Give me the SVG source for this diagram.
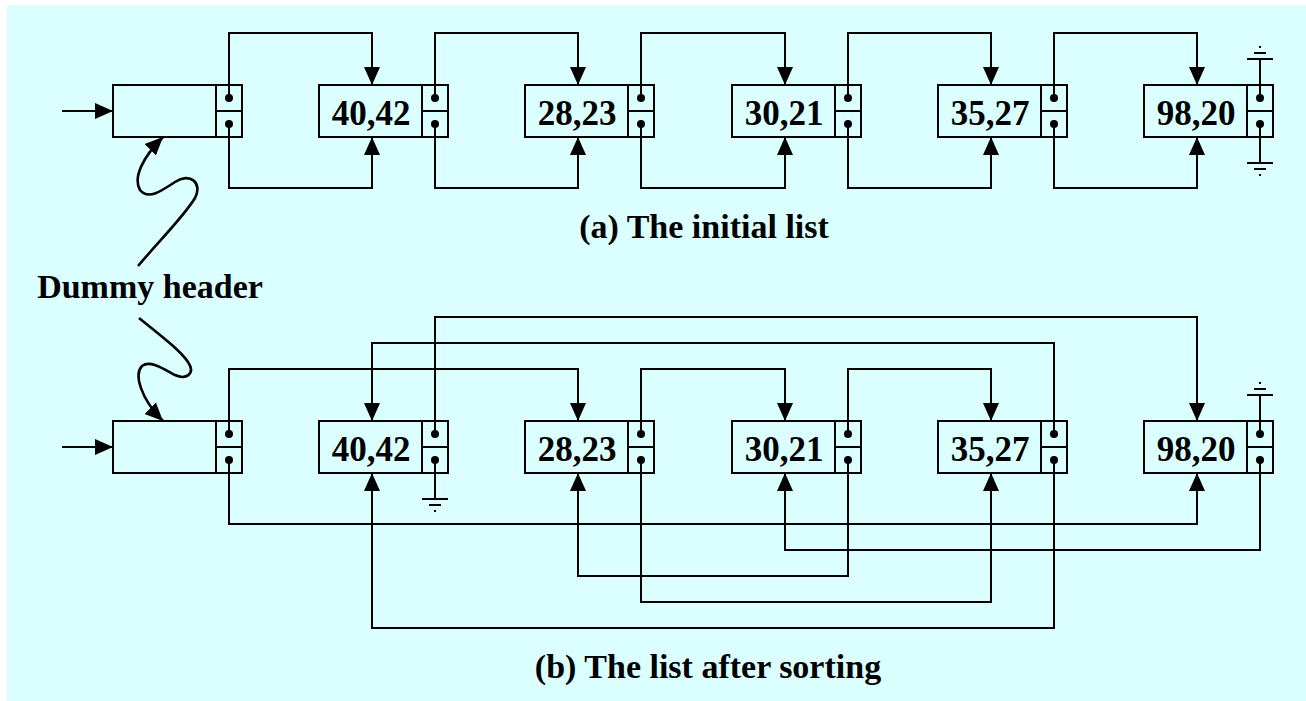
<svg xmlns="http://www.w3.org/2000/svg" width="1306" height="701" viewBox="0 0 1306 701">
<defs>
<style>
.bx{fill:none;stroke:#000;stroke-width:2}
.ln{fill:none;stroke:#000;stroke-width:2}
.sq{fill:none;stroke:#000;stroke-width:2.6}
.dt{fill:#000}
.lb{font-family:"Liberation Serif","Times New Roman",serif;font-weight:bold;font-size:35px;text-anchor:middle;fill:#000}
.cap{font-family:"Liberation Serif","Times New Roman",serif;font-weight:bold;font-size:34px;text-anchor:middle;fill:#000}
</style>
<marker id="ah" viewBox="0 0 18 18" markerWidth="18" markerHeight="18" refX="18" refY="9" orient="auto" markerUnits="userSpaceOnUse">
<path d="M0,1 L18,9 L0,17 Z" fill="#000"/>
</marker>
<g id="gnd-up">
<path d="M0,0 V-39 M-13,-39 H13 M-6,-45 H6" class="ln"/>
<rect x="-1" y="-52" width="2" height="2" fill="#000"/>
</g>
<g id="gnd-down">
<path d="M0,0 V39 M-13,39 H13 M-6,45 H6" class="ln"/>
<rect x="-1" y="50" width="2" height="2" fill="#000"/>
</g>
</defs>
<rect x="0" y="0" width="1306" height="701" fill="#ffffff"/>
<rect x="7" y="5" width="1299" height="696" fill="#dbffff"/>

<!-- Row (a) nodes -->
<g id="a-header">
<rect x="113" y="85" width="103" height="52" class="bx"/>
<rect x="216" y="85" width="26" height="52" class="bx"/>
<line x1="216" y1="111" x2="242" y2="111" class="ln"/>
<circle cx="229" cy="98" r="4" class="dt"/><circle cx="229" cy="124" r="4" class="dt"/>
</g>
<g id="a-n1">
<rect x="319" y="85" width="103" height="52" class="bx"/>
<rect x="422" y="85" width="26" height="52" class="bx"/>
<line x1="422" y1="111" x2="448" y2="111" class="ln"/>
<circle cx="435" cy="98" r="4" class="dt"/><circle cx="435" cy="124" r="4" class="dt"/>
<text x="371" y="125" class="lb">40,42</text>
</g>
<g id="a-n2">
<rect x="525" y="85" width="103" height="52" class="bx"/>
<rect x="628" y="85" width="26" height="52" class="bx"/>
<line x1="628" y1="111" x2="654" y2="111" class="ln"/>
<circle cx="641" cy="98" r="4" class="dt"/><circle cx="641" cy="124" r="4" class="dt"/>
<text x="577" y="125" class="lb">28,23</text>
</g>
<g id="a-n3">
<rect x="732" y="85" width="103" height="52" class="bx"/>
<rect x="835" y="85" width="26" height="52" class="bx"/>
<line x1="835" y1="111" x2="861" y2="111" class="ln"/>
<circle cx="848" cy="98" r="4" class="dt"/><circle cx="848" cy="124" r="4" class="dt"/>
<text x="784" y="125" class="lb">30,21</text>
</g>
<g id="a-n4">
<rect x="938" y="85" width="103" height="52" class="bx"/>
<rect x="1041" y="85" width="26" height="52" class="bx"/>
<line x1="1041" y1="111" x2="1067" y2="111" class="ln"/>
<circle cx="1054" cy="98" r="4" class="dt"/><circle cx="1054" cy="124" r="4" class="dt"/>
<text x="990" y="125" class="lb">35,27</text>
</g>
<g id="a-n5">
<rect x="1144" y="85" width="103" height="52" class="bx"/>
<rect x="1247" y="85" width="26" height="52" class="bx"/>
<line x1="1247" y1="111" x2="1273" y2="111" class="ln"/>
<circle cx="1260" cy="98" r="4" class="dt"/><circle cx="1260" cy="124" r="4" class="dt"/>
<text x="1196" y="125" class="lb">98,20</text>
<use href="#gnd-up" x="1260" y="98"/>
<use href="#gnd-down" x="1260" y="124"/>
</g>

<!-- Row (b) nodes -->
<g id="b-header">
<rect x="113" y="421" width="103" height="52" class="bx"/>
<rect x="216" y="421" width="26" height="52" class="bx"/>
<line x1="216" y1="447" x2="242" y2="447" class="ln"/>
<circle cx="229" cy="434" r="4" class="dt"/><circle cx="229" cy="460" r="4" class="dt"/>
</g>
<g id="b-n1">
<rect x="319" y="421" width="103" height="52" class="bx"/>
<rect x="422" y="421" width="26" height="52" class="bx"/>
<line x1="422" y1="447" x2="448" y2="447" class="ln"/>
<circle cx="435" cy="434" r="4" class="dt"/><circle cx="435" cy="460" r="4" class="dt"/>
<text x="371" y="461" class="lb">40,42</text>
<use href="#gnd-down" x="435" y="460"/>
</g>
<g id="b-n2">
<rect x="525" y="421" width="103" height="52" class="bx"/>
<rect x="628" y="421" width="26" height="52" class="bx"/>
<line x1="628" y1="447" x2="654" y2="447" class="ln"/>
<circle cx="641" cy="434" r="4" class="dt"/><circle cx="641" cy="460" r="4" class="dt"/>
<text x="577" y="461" class="lb">28,23</text>
</g>
<g id="b-n3">
<rect x="732" y="421" width="103" height="52" class="bx"/>
<rect x="835" y="421" width="26" height="52" class="bx"/>
<line x1="835" y1="447" x2="861" y2="447" class="ln"/>
<circle cx="848" cy="434" r="4" class="dt"/><circle cx="848" cy="460" r="4" class="dt"/>
<text x="784" y="461" class="lb">30,21</text>
</g>
<g id="b-n4">
<rect x="938" y="421" width="103" height="52" class="bx"/>
<rect x="1041" y="421" width="26" height="52" class="bx"/>
<line x1="1041" y1="447" x2="1067" y2="447" class="ln"/>
<circle cx="1054" cy="434" r="4" class="dt"/><circle cx="1054" cy="460" r="4" class="dt"/>
<text x="990" y="461" class="lb">35,27</text>
</g>
<g id="b-n5">
<rect x="1144" y="421" width="103" height="52" class="bx"/>
<rect x="1247" y="421" width="26" height="52" class="bx"/>
<line x1="1247" y1="447" x2="1273" y2="447" class="ln"/>
<circle cx="1260" cy="434" r="4" class="dt"/><circle cx="1260" cy="460" r="4" class="dt"/>
<text x="1196" y="461" class="lb">98,20</text>
<use href="#gnd-up" x="1260" y="434"/>
</g>

<!-- Connectors -->
<g id="connectors" class="ln" marker-end="url(#ah)">
<path d="M62,111 H113"/>
<path d="M229,98 V33 H372 V85"/>
<path d="M229,124 V188 H372 V137"/>
<path d="M435,98 V33 H578 V85"/>
<path d="M435,124 V188 H578 V137"/>
<path d="M641,98 V33 H785 V85"/>
<path d="M641,124 V188 H785 V137"/>
<path d="M848,98 V33 H991 V85"/>
<path d="M848,124 V188 H991 V137"/>
<path d="M1054,98 V33 H1197 V85"/>
<path d="M1054,124 V188 H1197 V137"/>

<path d="M62,447 H113"/>
<path d="M229,434 V369 H578 V421"/>
<path d="M641,434 V369 H785 V421"/>
<path d="M848,434 V369 H991 V421"/>
<path d="M1054,434 V343 H372 V421"/>
<path d="M435,434 V317 H1197 V421"/>
<path d="M229,460 V524 H1197 V473"/>
<path d="M1260,460 V550 H785 V473"/>
<path d="M848,460 V576 H578 V473"/>
<path d="M641,460 V602 H991 V473"/>
<path d="M1054,460 V628 H372 V473"/>

<path class="sq" d="M138,266 C160,240 185,215 195,198 C203,183 190,172 175,182 C160,192 148,200 140,190 C133,178 142,158 163,137"/>
<path class="sq" d="M139,318 C160,335 180,350 188,362 C196,374 186,380 175,375 C162,368 150,360 142,366 C134,374 140,398 163,421"/>
</g>

<text x="150" y="298" class="cap">Dummy header</text>
<text x="704" y="238" class="cap">(a) The initial list</text>
<text x="708" y="678" class="cap">(b) The list after sorting</text>
</svg>
